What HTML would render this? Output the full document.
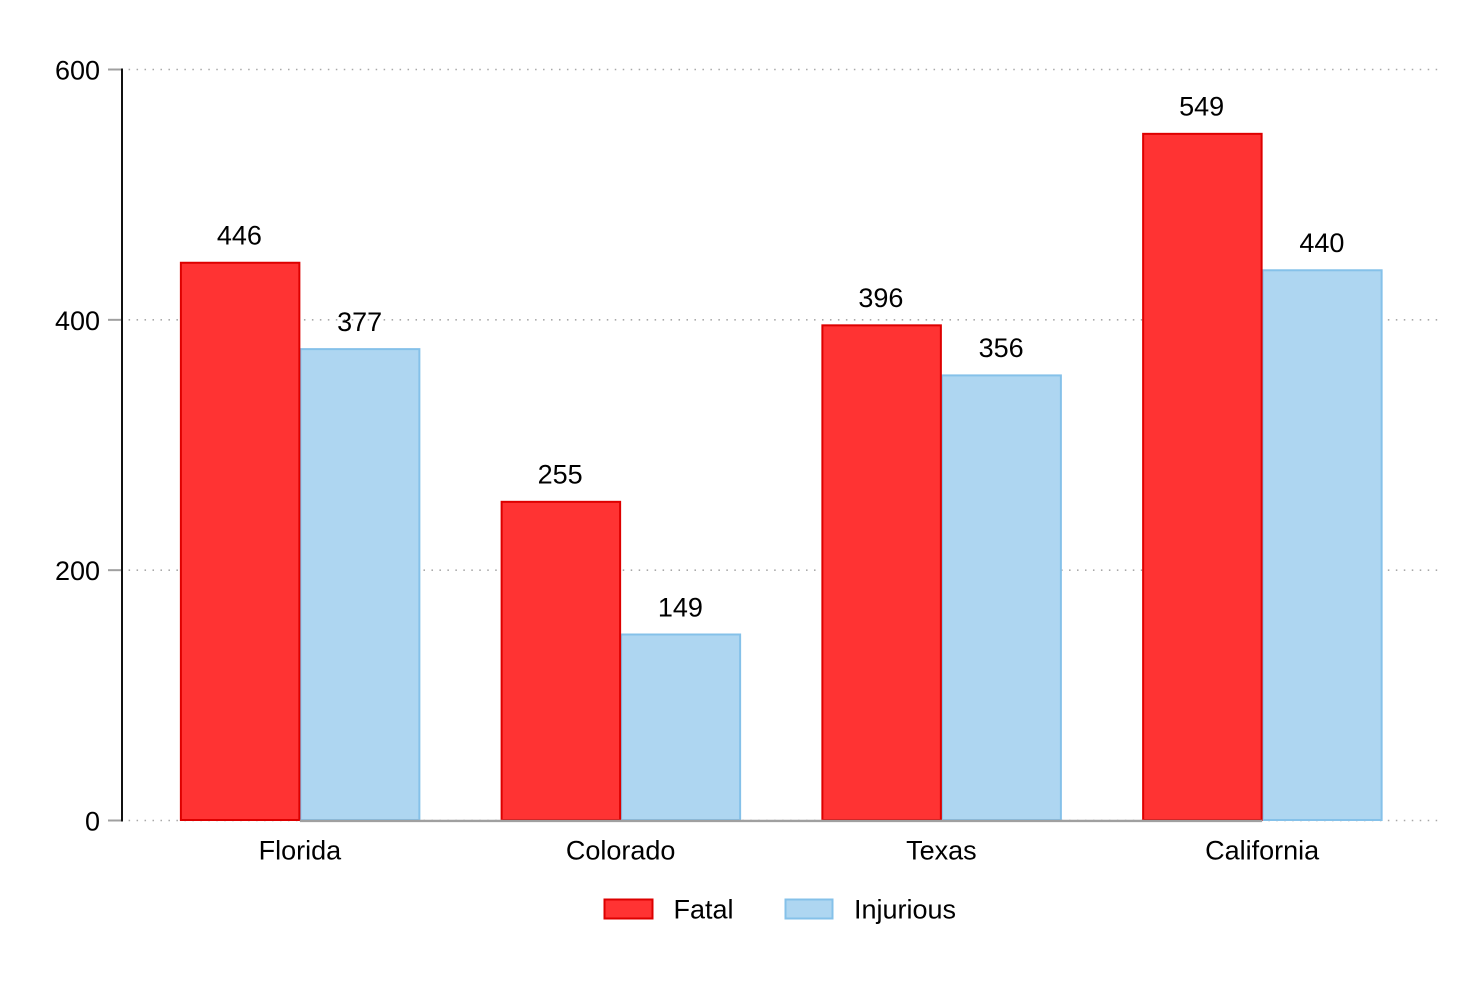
<!DOCTYPE html>
<html lang="en">
<head>
<meta charset="utf-8">
<title>Fatal and injurious incidents by state</title>
<style>
html,body{margin:0;padding:0;background:#fff;width:1476px;height:984px;overflow:hidden}
svg{display:block}
text{font-family:"Liberation Sans",Arial,sans-serif;font-size:27px;fill:#000}
</style>
</head>
<body>
<svg id="chart" width="1476" height="984" viewBox="0 0 1476 984" xmlns="http://www.w3.org/2000/svg">
  <rect x="0" y="0" width="1476" height="984" fill="#fff"/>
  <g id="grid"></g>
  <g id="bars"></g>
  <g id="labels"></g>
  <g id="yaxis"></g>
  <g id="xaxis"></g>
  <g>
    <g>
      <rect x="604.5" y="899.5" width="48" height="19" fill="#ff3333" stroke="#dd0000" stroke-width="2"/>
      <text x="673.5" y="918.5">Fatal</text>
    </g>
    <g>
      <rect x="785.5" y="899.5" width="47" height="19" fill="#aed6f1" stroke="#85c1e9" stroke-width="2"/>
      <text x="854" y="918.5">Injurious</text>
    </g>
  </g>
</svg>
<script>
const categories = ["Florida", "Colorado", "Texas", "California"];
const fatalValues = [446, 255, 396, 549];
const injuriousValues = [377, 149, 356, 440];
const yTicks = [0, 200, 400, 600];

const SVG_NS = "http://www.w3.org/2000/svg";
const plotLeft = 139.5;
const groupStep = 320.75;
const fatalWidth = 118.5;
const injuriousWidth = 119;
const yZero = 820.5;
const yScale = 751 / 600;
const gridStart = 128.6;
const gridEnd = 1439;

function yPos(v) { return yZero - v * yScale; }
function xCenter(i) { return plotLeft + groupStep * (i + 0.5); }
function make(tag, attrs, parent) {
  const el = document.createElementNS(SVG_NS, tag);
  for (const k in attrs) el.setAttribute(k, attrs[k]);
  parent.appendChild(el);
  return el;
}

const gridG = document.getElementById("grid");
const barsG = document.getElementById("bars");
const labelsG = document.getElementById("labels");
const yAxisG = document.getElementById("yaxis");
const xAxisG = document.getElementById("xaxis");

yTicks.forEach(function (t) {
  const y = yPos(t);
  const grid = make("line", { x1: gridStart, x2: gridEnd, y1: y, y2: y, stroke: "#a8a8a8", "stroke-width": 1.6, "stroke-dasharray": "1.5 6.47" }, gridG);
  
  
  const tick = make("line", { x1: 108, x2: 122, y1: y, y2: y, stroke: "#a0a0a0", "stroke-width": 2 }, yAxisG);
  
  
  const lab = make("text", { x: 100, y: y + 10, "text-anchor": "end" }, yAxisG);
  lab.textContent = String(t);
  
  
});

const axisLine = make("line", { x1: 122, x2: 122, y1: yPos(yTicks[yTicks.length - 1]) - 1, y2: yZero + 1, stroke: "#111", "stroke-width": 2 }, yAxisG);



function drawBar(value, x, width, labelCenter, fill, stroke) {
  const top = yPos(value) + 0.5;
  const bar = make("rect", { x: x, y: top, width: width, height: 820 - top, fill: fill, stroke: stroke, "stroke-width": 2 }, barsG);
  
  
  const lab = make("text", { x: labelCenter, y: top - 18.2, "text-anchor": "middle" }, labelsG);
  lab.textContent = String(value);
  
  
}

categories.forEach(function (c, i) {
  const cx = xCenter(i);
  drawBar(injuriousValues[i], cx + 0.5, injuriousWidth, cx + 59.75, "#aed6f1", "#85c1e9");
  drawBar(fatalValues[i], cx - fatalWidth - 0.5, fatalWidth, cx - 60.5, "#ff3333", "#dd0000");
  const lab = make("text", { x: cx, y: 859.5, "text-anchor": "middle" }, xAxisG);
  lab.textContent = c;
  
  
});

const baseline = make("line", { x1: xCenter(0), x2: xCenter(categories.length - 1), y1: 820.9, y2: 820.9, stroke: "#a0a0a0", "stroke-width": 2.4 }, xAxisG);


</script>
</body>
</html>
